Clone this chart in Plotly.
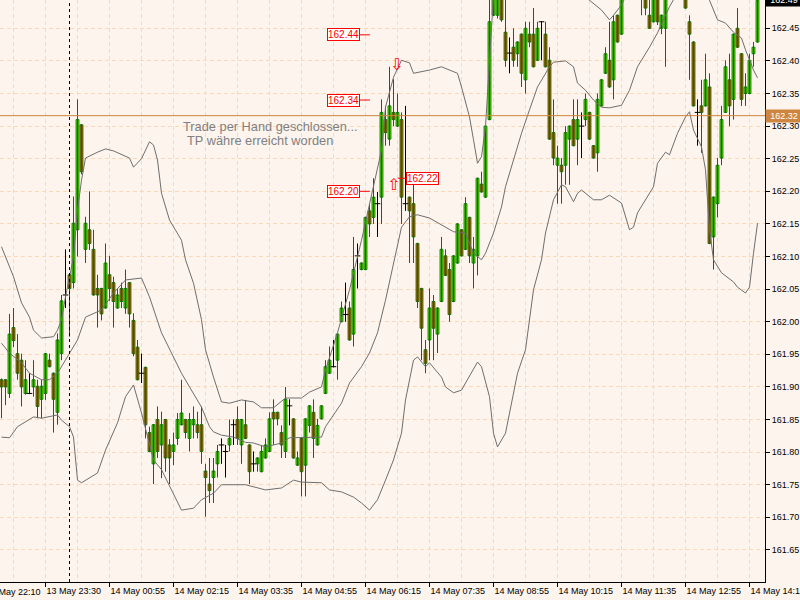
import plotly.graph_objects as go

# M5 bars, bar 0 = 13 May 22:35
bar_open = [
    161.911, 161.911, 161.890, 161.991, 161.951, 161.941, 161.890, 161.890, 161.900, 161.901,
    161.881, 161.890, 161.941, 161.921, 161.861, 161.951, 162.041, 162.072, 162.060, 162.141,
    162.302, 162.111, 162.141, 162.111, 162.051, 162.051, 162.021, 162.072, 162.060, 162.021,
    162.051, 162.021, 162.060, 162.002, 161.961, 161.921, 161.930, 161.830, 161.782, 161.850,
    161.811, 161.850, 161.811, 161.801, 161.821, 161.842, 161.850, 161.821, 161.842, 161.842,
    161.842, 161.771, 161.751, 161.761, 161.782, 161.811, 161.801, 161.811, 161.842, 161.850,
    161.811, 161.842, 161.811, 161.782, 161.782, 161.770, 161.791, 161.801, 161.861, 161.861,
    161.830, 161.801, 161.871, 161.851, 161.780, 161.821, 161.780, 161.841, 161.861, 161.811,
    161.851, 161.890, 161.921, 161.931, 161.941, 162.000, 162.011, 162.021, 161.981, 162.101,
    162.080, 162.080, 162.170, 162.160, 162.181, 162.191, 162.310, 162.280, 162.321, 162.300,
    162.310, 162.181, 162.191, 162.181, 162.120, 162.051, 161.957, 161.972, 162.031, 161.981,
    162.031, 162.101, 162.080, 162.031, 162.090, 162.141, 162.111, 162.160, 162.090, 162.101,
    162.211, 162.191, 162.310, 162.470, 162.470, 162.505, 162.444, 162.412, 162.421, 162.411,
    162.441, 162.371, 162.441, 162.441, 162.401, 162.460, 162.441, 162.401, 162.290, 162.240,
    162.240, 162.240, 162.280, 162.310, 162.280, 162.300, 162.310, 162.321, 162.270, 162.259,
    162.331, 162.381, 162.401, 162.371, 162.470, 162.441, 162.500, 162.525, 162.545, 162.530,
    162.498, 162.510, 162.470, 162.460, 162.500, 162.450, 162.450, 162.502, 162.520, 162.540,
    162.525, 162.510, 162.460, 162.429, 162.321, 162.331, 162.331, 162.360, 162.130, 162.181,
    162.251, 162.321, 162.371, 162.341, 162.450, 162.411, 162.350, 162.350, 162.411, 162.429,
]
bar_high = [
    161.913, 161.912, 162.012, 162.021, 161.981, 161.951, 161.941, 161.921, 161.941, 161.911,
    161.911, 161.952, 161.951, 161.922, 161.982, 162.041, 162.111, 162.073, 162.192, 162.341,
    162.303, 162.161, 162.200, 162.141, 162.072, 162.052, 162.120, 162.101, 162.069, 162.051,
    162.060, 162.080, 162.061, 162.013, 161.972, 161.951, 161.931, 161.839, 161.843, 161.870,
    161.862, 161.851, 161.820, 161.830, 161.860, 161.911, 161.851, 161.860, 161.870, 161.862,
    161.870, 161.782, 161.791, 161.791, 161.811, 161.821, 161.811, 161.850, 161.850, 161.870,
    161.851, 161.880, 161.812, 161.801, 161.792, 161.811, 161.821, 161.861, 161.881, 161.862,
    161.841, 161.900, 161.881, 161.852, 161.801, 161.822, 161.852, 161.872, 161.881, 161.851,
    161.872, 161.941, 161.962, 161.972, 161.982, 162.031, 162.060, 162.031, 162.130, 162.120,
    162.091, 162.161, 162.181, 162.220, 162.199, 162.341, 162.331, 162.391, 162.372, 162.350,
    162.321, 162.331, 162.192, 162.211, 162.121, 162.052, 161.972, 162.051, 162.041, 162.022,
    162.130, 162.111, 162.090, 162.102, 162.151, 162.142, 162.191, 162.161, 162.130, 162.221,
    162.230, 162.301, 162.500, 162.505, 162.508, 162.512, 162.497, 162.436, 162.450, 162.430,
    162.442, 162.460, 162.460, 162.481, 162.460, 162.461, 162.460, 162.421, 162.341, 162.270,
    162.251, 162.300, 162.301, 162.341, 162.341, 162.321, 162.350, 162.322, 162.271, 162.350,
    162.372, 162.421, 162.460, 162.470, 162.471, 162.505, 162.532, 162.552, 162.556, 162.538,
    162.520, 162.515, 162.497, 162.508, 162.506, 162.471, 162.510, 162.528, 162.548, 162.545,
    162.532, 162.515, 162.470, 162.430, 162.341, 162.371, 162.411, 162.381, 162.192, 162.251,
    162.331, 162.401, 162.411, 162.442, 162.481, 162.412, 162.381, 162.411, 162.429, 162.498,
]
bar_low = [
    161.852, 161.872, 161.883, 161.961, 161.911, 161.870, 161.888, 161.889, 161.885, 161.852,
    161.852, 161.880, 161.930, 161.830, 161.842, 161.941, 162.021, 161.977, 162.051, 162.100,
    162.226, 162.090, 162.110, 162.040, 161.991, 162.002, 162.020, 162.032, 161.991, 162.020,
    162.021, 162.012, 161.991, 161.947, 161.910, 161.906, 161.821, 161.800, 161.751, 161.791,
    161.760, 161.770, 161.751, 161.780, 161.811, 161.841, 161.821, 161.801, 161.821, 161.821,
    161.782, 161.701, 161.722, 161.722, 161.761, 161.782, 161.761, 161.801, 161.811, 161.811,
    161.782, 161.820, 161.751, 161.770, 161.770, 161.769, 161.790, 161.800, 161.811, 161.841,
    161.791, 161.791, 161.841, 161.790, 161.779, 161.732, 161.732, 161.830, 161.791, 161.810,
    161.850, 161.889, 161.920, 161.930, 161.911, 161.999, 162.000, 161.971, 161.962, 162.051,
    162.079, 162.079, 162.130, 162.150, 162.130, 162.150, 162.270, 162.270, 162.300, 162.299,
    162.150, 162.170, 162.090, 162.090, 162.021, 161.941, 161.921, 161.941, 161.941, 161.952,
    162.030, 162.070, 162.000, 162.030, 162.089, 162.100, 162.110, 162.090, 162.051, 162.071,
    162.198, 162.190, 162.309, 162.469, 162.465, 162.460, 162.391, 162.381, 162.391, 162.391,
    162.360, 162.350, 162.421, 162.390, 162.400, 162.401, 162.390, 162.279, 162.240, 162.181,
    162.181, 162.210, 162.210, 162.269, 162.240, 162.251, 162.300, 162.279, 162.250, 162.230,
    162.330, 162.380, 162.359, 162.341, 162.428, 162.440, 162.497, 162.518, 162.522, 162.502,
    162.470, 162.470, 162.449, 162.459, 162.455, 162.441, 162.391, 162.498, 162.515, 162.518,
    162.500, 162.480, 162.371, 162.330, 162.270, 162.259, 162.330, 162.119, 162.080, 162.160,
    162.240, 162.320, 162.300, 162.310, 162.420, 162.331, 162.331, 162.349, 162.391, 162.428,
]
bar_close = [
    161.900, 161.900, 161.981, 161.971, 161.921, 161.900, 161.911, 161.890, 161.911, 161.870,
    161.901, 161.951, 161.931, 161.881, 161.972, 162.032, 162.041, 162.051, 162.151, 162.310,
    162.230, 162.151, 162.120, 162.041, 162.041, 162.012, 162.090, 162.051, 162.031, 162.041,
    162.031, 162.051, 162.012, 161.951, 161.911, 161.921, 161.842, 161.801, 161.842, 161.801,
    161.842, 161.791, 161.791, 161.811, 161.850, 161.860, 161.830, 161.850, 161.850, 161.830,
    161.801, 161.761, 161.741, 161.771, 161.801, 161.811, 161.801, 161.821, 161.842, 161.821,
    161.850, 161.821, 161.770, 161.782, 161.791, 161.801, 161.811, 161.851, 161.851, 161.851,
    161.811, 161.881, 161.871, 161.791, 161.791, 161.770, 161.851, 161.871, 161.821, 161.841,
    161.871, 161.931, 161.941, 161.931, 161.981, 162.021, 162.011, 161.972, 162.080, 162.101,
    162.090, 162.160, 162.150, 162.191, 162.181, 162.321, 162.290, 162.331, 162.310, 162.321,
    162.191, 162.181, 162.170, 162.130, 162.031, 161.990, 161.936, 162.021, 161.990, 162.021,
    162.111, 162.071, 162.011, 162.101, 162.150, 162.101, 162.181, 162.101, 162.111, 162.220,
    162.199, 162.300, 162.460, 162.498, 162.501, 162.463, 162.401, 162.412, 162.401, 162.429,
    162.381, 162.450, 162.429, 162.391, 162.450, 162.460, 162.391, 162.280, 162.251, 162.251,
    162.230, 162.290, 162.300, 162.270, 162.310, 162.300, 162.341, 162.280, 162.251, 162.341,
    162.371, 162.411, 162.360, 162.460, 162.429, 162.495, 162.525, 162.545, 162.530, 162.512,
    162.515, 162.481, 162.450, 162.500, 162.460, 162.470, 162.502, 162.520, 162.540, 162.525,
    162.510, 162.481, 162.441, 162.331, 162.321, 162.321, 162.371, 162.120, 162.191, 162.240,
    162.310, 162.391, 162.331, 162.441, 162.421, 162.341, 162.360, 162.401, 162.421, 162.493,
]

# Bollinger bands, read at selected bars
bb_upper_bar = [0, 3, 5, 7, 8, 10, 13, 14, 15, 16, 18, 19, 20, 21, 24, 26, 28, 30, 32, 33,
                35, 37, 38, 39, 40, 42, 45, 46, 48, 50, 51, 53, 54, 55, 57, 60, 63, 65, 68, 71,
                75, 77, 80, 81, 84, 87, 90, 93, 95, 96, 98, 100, 102, 103, 105, 107, 110, 112, 114, 115,
                117, 118, 119, 120, 121, 122, 123, 125, 130, 135, 140, 144, 147, 150, 152, 153, 155, 157, 160, 165,
                170, 175, 180, 185, 189]
bb_upper = [162.115, 162.069, 162.029, 162.007, 161.987, 161.975, 161.977, 161.987, 162.003, 162.038,
            162.099, 162.171, 162.217, 162.251, 162.260, 162.265, 162.262, 162.256, 162.251, 162.237,
            162.250, 162.276, 162.271, 162.248, 162.197, 162.156, 162.125, 162.095, 162.059, 162.003,
            161.957, 161.915, 161.895, 161.877, 161.875, 161.880, 161.877, 161.868, 161.868, 161.883,
            161.883, 161.892, 161.900, 161.926, 161.983, 162.049, 162.125, 162.207, 162.263, 162.329,
            162.375, 162.401, 162.397, 162.381, 162.383, 162.386, 162.391, 162.386, 162.381, 162.360,
            162.314, 162.279, 162.243, 162.253, 162.299, 162.400, 162.500, 162.550, 162.570, 162.560,
            162.530, 162.505, 162.493, 162.478, 162.463, 162.470, 162.486, 162.510, 162.540, 162.560,
            162.580, 162.580, 162.570, 162.560, 162.560]

bb_middle_bar = [0, 2, 5, 7, 10, 12, 14, 16, 19, 21, 25, 28, 31, 35, 37, 40, 45, 47, 50, 52,
                 53, 55, 58, 61, 63, 66, 70, 72, 80, 81, 85, 87, 90, 92, 94, 96, 98, 99, 100, 102,
                 104, 107, 111, 113, 116, 118, 120, 121, 123, 125, 126, 128, 130, 132, 134, 137, 138, 141, 143, 144,
                 146, 148, 150, 152, 155, 157, 159, 162, 164, 167, 169, 172, 175, 177, 179, 181, 183, 185, 186, 188,
                 189]
bb_middle = [161.967, 161.952, 161.937, 161.921, 161.911, 161.911, 161.921, 161.941, 161.972, 162.007,
             162.018, 162.044, 162.064, 162.067, 162.038, 161.983, 161.921, 161.900, 161.869, 161.839,
             161.831, 161.826, 161.823, 161.815, 161.814, 161.808, 161.814, 161.822, 161.823, 161.839,
             161.875, 161.906, 161.931, 161.952, 161.983, 162.033, 162.090, 162.115, 162.145, 162.161,
             162.164, 162.159, 162.145, 162.138, 162.136, 162.105, 162.095, 162.105, 162.136, 162.176,
             162.207, 162.248, 162.289, 162.325, 162.360, 162.391, 162.398, 162.400, 162.391, 162.366,
             162.355, 162.340, 162.329, 162.328, 162.332, 162.355, 162.391, 162.421, 162.443, 162.483,
             162.505, 162.512, 162.505, 162.493, 162.463, 162.458, 162.444, 162.435, 162.417, 162.386,
             162.374]

bb_lower_bar = [0, 2, 4, 6, 8, 10, 14, 15, 17, 18, 19, 20, 21, 24, 26, 29, 31, 33, 35, 38,
                40, 43, 45, 48, 50, 53, 55, 61, 64, 66, 70, 73, 75, 80, 82, 85, 88, 90, 92, 94,
                96, 98, 100, 101, 103, 104, 106, 107, 110, 111, 113, 115, 116, 118, 119, 120, 122, 123, 124, 126,
                127, 129, 131, 132, 133, 135, 136, 138, 140, 141, 143, 144, 145, 148, 150, 152, 155, 157, 158, 159,
                161, 163, 164, 166, 167, 169, 171, 172, 173, 175, 176, 177, 178, 180, 183, 184, 186, 187, 188, 189]
bb_lower = [161.823, 161.822, 161.839, 161.846, 161.854, 161.852, 161.857, 161.849, 161.839, 161.823,
            161.757, 161.753, 161.757, 161.768, 161.803, 161.845, 161.885, 161.903, 161.860, 161.788,
            161.773, 161.737, 161.711, 161.714, 161.727, 161.737, 161.750, 161.750, 161.745, 161.742,
            161.745, 161.757, 161.754, 161.753, 161.742, 161.739, 161.731, 161.722, 161.711, 161.727,
            161.757, 161.788, 161.829, 161.880, 161.941, 161.946, 161.931, 161.937, 161.915, 161.900,
            161.891, 161.895, 161.906, 161.926, 161.938, 161.931, 161.885, 161.829, 161.808, 161.829,
            161.860, 161.921, 161.957, 162.007, 162.049, 162.095, 162.136, 162.187, 162.210, 162.207,
            162.184, 162.197, 162.202, 162.187, 162.187, 162.194, 162.182, 162.141, 162.145, 162.167,
            162.187, 162.207, 162.243, 162.260, 162.256, 162.289, 162.314, 162.322, 162.294, 162.268,
            162.233, 162.141, 162.095, 162.075, 162.061, 162.053, 162.044, 162.053, 162.105, 162.151]

tick_bars = [11, 27, 43, 59, 75, 91, 107, 123, 139, 155, 171, 187]
tick_text = ["13 May 23:30", "14 May 00:55", "14 May 02:15", "14 May 03:35",
             "14 May 04:55", "14 May 06:15", "14 May 07:35", "14 May 08:55",
             "14 May 10:15", "14 May 11:35", "14 May 12:55", "14 May 14:15"]
prev_tick_text = "13 May 22:10"   # label of bar -5, just left of the window
day_start_bar = 17

price_ticks = [161.65, 161.70, 161.75, 161.80, 161.85, 161.90, 161.95, 162.00, 162.05,
               162.10, 162.15, 162.20, 162.25, 162.30, 162.35, 162.40, 162.45]

bid_price = 162.493
trade_line_price = 162.316
label_prices = [162.44, 162.34, 162.20, 162.22]
sell_arrow = (98.75, 162.394)
buy_arrow = (98.0, 162.211)

BG = "#FDF4ED"
GRID = "#FAD9B8"
EDGE = "#0A6E0A"
BULL = "#7CFC00"
BEAR = "#FF4A00"
BAND = "#6E6E6E"
FONT = "Liberation Sans, Arial, sans-serif"

bars = list(range(len(bar_close)))
up = [i for i in bars if bar_close[i] > bar_open[i]]
down = [i for i in bars if bar_close[i] < bar_open[i]]
doji = [i for i in bars if bar_close[i] == bar_open[i]]


def wicks(idx):
    xs, ys = [], []
    for i in idx:
        xs += [i, i, None]
        ys += [bar_low[i], bar_high[i], None]
    return xs, ys


fig = go.Figure()

wx, wy = wicks(up + down)
fig.add_trace(go.Scatter(x=wx, y=wy, mode="lines", line=dict(color=EDGE, width=1), hoverinfo="skip"))
dx, dy = wicks(doji)
fig.add_trace(go.Scatter(x=dx, y=dy, mode="lines", line=dict(color="black", width=1), hoverinfo="skip"))
fig.add_trace(go.Scatter(x=doji, y=[bar_close[i] for i in doji], mode="markers",
                         marker=dict(symbol="line-ew", size=4, line=dict(color="black", width=1))))

fig.add_trace(go.Bar(x=up, y=[bar_close[i] - bar_open[i] for i in up], base=[bar_open[i] for i in up],
                     width=0.7, marker=dict(color=BULL, line=dict(color=EDGE, width=1))))
fig.add_trace(go.Bar(x=down, y=[bar_open[i] - bar_close[i] for i in down], base=[bar_close[i] for i in down],
                     width=0.7, marker=dict(color=BEAR, line=dict(color=EDGE, width=1))))

for bx, by in [(bb_upper_bar, bb_upper), (bb_middle_bar, bb_middle), (bb_lower_bar, bb_lower)]:
    fig.add_trace(go.Scatter(x=bx, y=by, mode="lines", line=dict(color=BAND, width=1), hoverinfo="skip"))

annotations = []
shapes = []

# trade close line + right price labels
shapes.append(dict(type="line", xref="paper", x0=0, x1=1, y0=trade_line_price, y1=trade_line_price,
                   line=dict(color="#CD853F", width=1)))
annotations.append(dict(xref="paper", x=1, y=trade_line_price, xanchor="left", yanchor="middle",
                        text="%.2f" % trade_line_price, showarrow=False, bgcolor="#CD853F",
                        font=dict(color="white", size=9, family=FONT), width=34, borderpad=1))
annotations.append(dict(xref="paper", x=1, y=bid_price, xanchor="left", yanchor="middle",
                        text="%.2f" % bid_price, showarrow=False, bgcolor="black",
                        font=dict(color="white", size=9, family=FONT), width=34, borderpad=1))

# day separator
shapes.append(dict(type="line", x0=day_start_bar, x1=day_start_bar, yref="paper", y0=0, y1=1,
                   line=dict(color="black", width=1, dash="3px,3px")))

# red price labels of the closed trade
label_pos = [(85.6, 89.4, 92.1), (85.6, 89.4, 92.1), (85.6, 89.4, 92.1), (105.25, 99.1, 101.6)]
for p, (cx, l0, l1) in zip(label_prices, label_pos):
    shapes.append(dict(type="line", x0=l0, x1=l1, y0=p, y1=p, line=dict(color="red", width=1)))
    annotations.append(dict(x=cx, y=p, text="%.2f" % p, showarrow=False, bgcolor="white",
                            bordercolor="red", borderwidth=1, borderpad=0,
                            font=dict(color="red", size=10, family=FONT)))

annotations.append(dict(x=sell_arrow[0], y=sell_arrow[1], text="\u21e9", showarrow=False,
                        font=dict(color="red", size=16, family="DejaVu Sans")))
annotations.append(dict(x=buy_arrow[0], y=buy_arrow[1], text="\u21e7", showarrow=False,
                        font=dict(color="red", size=16, family="DejaVu Sans")))

annotations.append(dict(x=44.9, y=162.300, xanchor="left", text="Trade per Hand geschlossen...",
                        showarrow=False, font=dict(color="#808080", size=12.8, family=FONT)))
annotations.append(dict(x=45.9, y=162.278, xanchor="left", text="TP w\u00e4hre erreicht worden",
                        showarrow=False, font=dict(color="#808080", size=12.8, family=FONT)))

# time label of the bar just left of the window, cut by the page edge
annotations.append(dict(xref="paper", x=-18.5 / 765, yref="paper", y=0, yanchor="top", xanchor="left",
                        yshift=-3, xshift=2, text=prev_tick_text, showarrow=False,
                        font=dict(color="black", size=9, family=FONT)))

fig.update_layout(
    width=800, height=600,
    margin=dict(l=0, r=35, t=0, b=18),
    plot_bgcolor=BG, paper_bgcolor=BG,
    showlegend=False, barmode="overlay",
    font=dict(family=FONT, size=9, color="black"),
    shapes=shapes, annotations=annotations,
    xaxis=dict(range=[-0.375, 190.875], tickvals=tick_bars, ticktext=tick_text,
               ticks="outside", ticklen=4, tickcolor="black", ticklabelposition="outside right",
               ticklabeloverflow="allow", tickangle=0, automargin=False,
               showline=True, linecolor="black", linewidth=1, zeroline=False,
               showgrid=True, gridcolor=GRID, griddash="4px,3px", gridwidth=1,
               minor=dict(tick0=3, dtick=8, showgrid=True, gridcolor=GRID, griddash="4px,3px", ticklen=0),
               tickfont=dict(size=9, family=FONT)),
    yaxis=dict(range=[161.6008, 162.4934], side="right", tickvals=price_ticks,
               ticktext=["%.2f" % v for v in price_ticks], automargin=False,
               ticks="outside", ticklen=4, tickcolor="black", ticklabeloverflow="allow",
               showline=True, linecolor="black", linewidth=1, zeroline=False,
               showgrid=True, gridcolor=GRID, griddash="4px,3px", gridwidth=1,
               tickfont=dict(size=9, family=FONT)),
)

# the page body has a default 8px margin; drop it so the chart fills the window
fig.write_html("out.html", config={"displayModeBar": False},
               post_script="document.body.style.margin='0';")
